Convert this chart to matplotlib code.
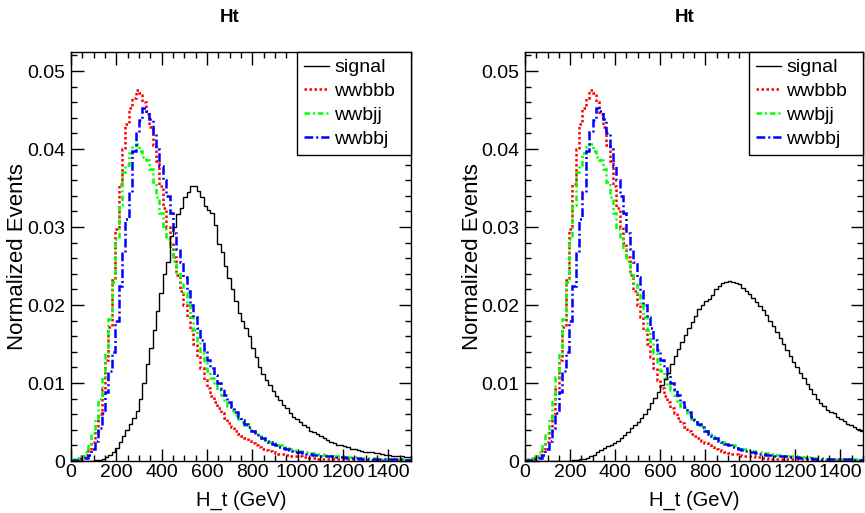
import numpy as np
import matplotlib
matplotlib.use("Agg")
import matplotlib.pyplot as plt
from matplotlib.ticker import MultipleLocator, FixedLocator
from matplotlib.lines import Line2D

plt.rcParams['font.family'] = ['Liberation Sans', 'DejaVu Sans']

# ---- data (normalized events per 15 GeV bin, 0..1500 GeV) ----
bin_edges = np.linspace(0, 1500, 101)

wwbbb = [0.0001, 0.0001, 0.0002, 0.0004, 0.0008, 0.0014, 0.0024, 0.0038, 0.0060, 0.0092,
         0.0130, 0.0172, 0.0232, 0.0298, 0.0355, 0.0400, 0.0432, 0.0452, 0.0466, 0.0476,
         0.0472, 0.0460, 0.0445, 0.0428, 0.0405, 0.0385, 0.0352, 0.0325, 0.0300, 0.0280,
         0.0262, 0.0238, 0.0218, 0.0200, 0.0185, 0.0168, 0.0150, 0.0133, 0.0119, 0.0104,
         0.0093, 0.0083, 0.0076, 0.0068, 0.0062, 0.0055, 0.0049, 0.0044, 0.0039, 0.0035,
         0.0032, 0.0029, 0.0026, 0.0023, 0.0020, 0.0018, 0.0016, 0.0014, 0.0013, 0.0012,
         0.0010, 0.0009, 0.0009, 0.0008, 0.0007, 0.0007, 0.0006, 0.0006, 0.0005, 0.0005,
         0.0004, 0.0004, 0.0003, 0.0003, 0.0003, 0.0003, 0.0002, 0.0002, 0.0002, 0.0002,
         0.0002, 0.0002, 0.0002, 0.0002, 0.0002, 0.0002, 0.0001, 0.0001, 0.0001, 0.0001,
         0.0001, 0.0001, 0.0001, 0.0001, 0.0001, 0.0001, 0.0001, 0.0001, 0.0001, 0.0001]

wwbjj = [0.0001, 0.0002, 0.0004, 0.0007, 0.0012, 0.0022, 0.0036, 0.0055, 0.0080, 0.0108,
         0.0140, 0.0182, 0.0230, 0.0285, 0.0328, 0.0370, 0.0380, 0.0395, 0.0402, 0.0406,
         0.0398, 0.0390, 0.0386, 0.0375, 0.0358, 0.0338, 0.0318, 0.0298, 0.0285, 0.0272,
         0.0257, 0.0242, 0.0228, 0.0216, 0.0200, 0.0185, 0.0168, 0.0152, 0.0138, 0.0126,
         0.0115, 0.0107, 0.0098, 0.0091, 0.0084, 0.0077, 0.0071, 0.0065, 0.0059, 0.0054,
         0.0050, 0.0046, 0.0042, 0.0039, 0.0035, 0.0032, 0.0030, 0.0027, 0.0025, 0.0023,
         0.0021, 0.0020, 0.0018, 0.0017, 0.0016, 0.0015, 0.0014, 0.0013, 0.0012, 0.0011,
         0.0010, 0.0010, 0.0009, 0.0009, 0.0008, 0.0008, 0.0007, 0.0007, 0.0007, 0.0006,
         0.0006, 0.0005, 0.0005, 0.0005, 0.0005, 0.0004, 0.0004, 0.0004, 0.0004, 0.0003,
         0.0003, 0.0003, 0.0003, 0.0003, 0.0003, 0.0002, 0.0002, 0.0002, 0.0002, 0.0002]

wwbbj = [0.0000, 0.0001, 0.0001, 0.0002, 0.0004, 0.0008, 0.0015, 0.0026, 0.0042, 0.0062,
         0.0088, 0.0115, 0.0140, 0.0180, 0.0225, 0.0268, 0.0310, 0.0345, 0.0398, 0.0422,
         0.0437, 0.0452, 0.0449, 0.0438, 0.0420, 0.0400, 0.0378, 0.0360, 0.0340, 0.0318,
         0.0292, 0.0272, 0.0255, 0.0236, 0.0218, 0.0200, 0.0185, 0.0170, 0.0155, 0.0142,
         0.0130, 0.0119, 0.0110, 0.0100, 0.0092, 0.0084, 0.0076, 0.0069, 0.0063, 0.0057,
         0.0052, 0.0047, 0.0043, 0.0039, 0.0035, 0.0032, 0.0029, 0.0026, 0.0024, 0.0022,
         0.0020, 0.0018, 0.0017, 0.0015, 0.0014, 0.0013, 0.0012, 0.0011, 0.0010, 0.0009,
         0.0009, 0.0008, 0.0008, 0.0007, 0.0007, 0.0006, 0.0006, 0.0006, 0.0005, 0.0005,
         0.0005, 0.0004, 0.0004, 0.0004, 0.0004, 0.0003, 0.0003, 0.0003, 0.0003, 0.0003,
         0.0002, 0.0002, 0.0002, 0.0002, 0.0002, 0.0002, 0.0002, 0.0001, 0.0001, 0.0001]

signal_left = [0.0, 0.0, 0.0, 0.0, 0.0, 0.0, 0.0, 0.0001, 0.0001, 0.0003,
               0.0005, 0.0008, 0.0012, 0.0017, 0.0024, 0.0032, 0.0040, 0.0047, 0.0055, 0.0064,
               0.0080, 0.0100, 0.0125, 0.0145, 0.0168, 0.0192, 0.0215, 0.0240, 0.0255, 0.0288,
               0.0300, 0.0317, 0.0325, 0.0338, 0.0345, 0.0352, 0.0353, 0.0346, 0.0338, 0.0327,
               0.0322, 0.0318, 0.0302, 0.0278, 0.0268, 0.0250, 0.0234, 0.0220, 0.0205, 0.0190,
               0.0180, 0.0170, 0.0160, 0.0145, 0.0133, 0.0120, 0.0112, 0.0104, 0.0097, 0.0090,
               0.0083, 0.0078, 0.0072, 0.0068, 0.0062, 0.0057, 0.0054, 0.0050, 0.0046, 0.0043,
               0.0039, 0.0037, 0.0034, 0.0032, 0.0029, 0.0027, 0.0025, 0.0023, 0.0021, 0.0020,
               0.0019, 0.0018, 0.0016, 0.0015, 0.0014, 0.0013, 0.0012, 0.0012, 0.0011, 0.0010,
               0.0010, 0.0009, 0.0008, 0.0008, 0.0007, 0.0007, 0.0006, 0.0006, 0.0005, 0.0005]

signal_right = [0.0, 0.0, 0.0, 0.0, 0.0, 0.0, 0.0, 0.0, 0.0, 0.0,
                0.0, 0.0, 0.0, 0.0, 0.0001, 0.0001, 0.0002, 0.0003, 0.0004, 0.0006,
                0.0008, 0.0011, 0.0014, 0.0017, 0.0019, 0.0021, 0.0023, 0.0026, 0.0029, 0.0033,
                0.0037, 0.0042, 0.0046, 0.0050, 0.0055, 0.0060, 0.0067, 0.0074, 0.0081, 0.0088,
                0.0097, 0.0105, 0.0113, 0.0124, 0.0135, 0.0144, 0.0152, 0.0161, 0.0171, 0.0178,
                0.0186, 0.0195, 0.0200, 0.0205, 0.0208, 0.0213, 0.0220, 0.0225, 0.0228, 0.0230,
                0.0231, 0.0229, 0.0228, 0.0227, 0.0222, 0.0218, 0.0214, 0.0209, 0.0204, 0.0199,
                0.0193, 0.0187, 0.0180, 0.0173, 0.0165, 0.0158, 0.0150, 0.0142, 0.0134, 0.0127,
                0.0120, 0.0113, 0.0107, 0.0099, 0.0092, 0.0086, 0.0079, 0.0075, 0.0070, 0.0066,
                0.0063, 0.0061, 0.0057, 0.0054, 0.0051, 0.0048, 0.0046, 0.0043, 0.0041, 0.0039]

series_labels = ["signal", "wwbbb", "wwbjj", "wwbbj"]
series_colors = ["black", "#ff0000", "#00ff00", "#0000ff"]
x_ticks = [0, 200, 400, 600, 800, 1000, 1200, 1400]
y_ticks = [0, 0.01, 0.02, 0.03, 0.04, 0.05]
y_tick_labels = ["0", "0.01", "0.02", "0.03", "0.04", "0.05"]

W, H = 865, 513
fig = plt.figure(figsize=(W / 100, H / 100), dpi=100)

styles = [dict(lw=1.0, ls='-'),
          dict(lw=1.8, ls=(0, (1, 1))),
          dict(lw=1.8, ls=(0, (2.2, 1.2, 0.8, 1.2))),
          dict(lw=1.8, ls=(0, (3.5, 1.2, 0.8, 1.2)))]


def panel(x0, x1, signal, title_x, ylabel_x):
    y_top, y_bot = 52, 461
    ax = fig.add_axes([x0 / W, 1 - y_bot / H, (x1 - x0) / W, (y_bot - y_top) / H])
    data = [signal, wwbbb, wwbjj, wwbbj]
    for i in [1, 2, 3, 0]:
        ax.stairs(data[i], bin_edges, color=series_colors[i], linewidth=styles[i]['lw'],
                  linestyle=styles[i]['ls'], baseline=None)
    handles = [Line2D([], [], color=series_colors[i], lw=styles[i]['lw'], ls=styles[i]['ls'])
               for i in range(4)]
    ax.set_xlim(0, 1500)
    ax.set_ylim(0, 0.05244)
    ax.xaxis.set_major_locator(FixedLocator(x_ticks))
    ax.xaxis.set_minor_locator(MultipleLocator(50))
    ax.set_yticks(y_ticks)
    ax.set_yticklabels(y_tick_labels)
    ax.yaxis.set_minor_locator(MultipleLocator(0.002))
    ax.tick_params(which='both', direction='in', top=True, right=True, labelsize=14,
                   width=1.0, colors='black')
    ax.tick_params(which='major', length=9)
    ax.tick_params(which='minor', length=4.5)
    ax.tick_params(axis='x', pad=2)
    ax.tick_params(axis='y', pad=4)
    for s in ax.spines.values():
        s.set_linewidth(1.0)
    ax.set_xlabel("H_t (GeV)", fontsize=14.5, labelpad=7)
    ax.set_ylabel("Normalized Events", fontsize=16)
    ax.yaxis.set_label_coords((ylabel_x - x0) / (x1 - x0), 0.5)
    frac = 114 / (x1 - x0)
    leg = ax.legend(handles, series_labels, loc='upper left',
                    bbox_to_anchor=(1 - frac, 0, frac, 1.0), mode='expand',
                    borderaxespad=0, fancybox=False,
                    edgecolor='black', framealpha=1, fontsize=14, handlelength=1.3,
                    handletextpad=0.25, labelspacing=0.32, borderpad=0.35)
    leg.get_frame().set_linewidth(1.0)
    fig.text(title_x / W, 1 - 17 / H, "Ht", ha='center', va='center', fontsize=13.5,
             fontweight='bold')
    return ax


panel(71, 411, signal_left, 230, 28)
panel(525, 863, signal_right, 685, 483)

fig.savefig("out.png", dpi=100)
